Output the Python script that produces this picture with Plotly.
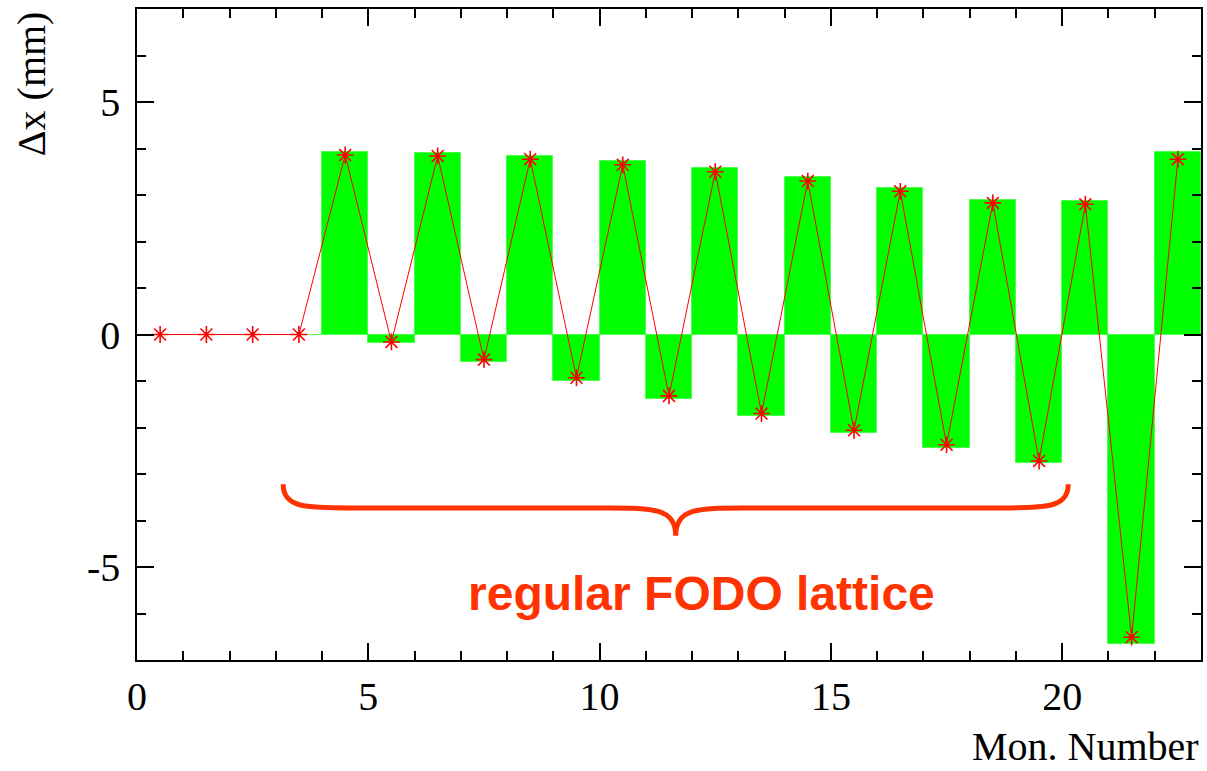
import plotly.graph_objects as go

# Monitor bins (centres of unit-wide bins 0..23)
monitor = [0.5, 1.5, 2.5, 3.5, 4.5, 5.5, 6.5, 7.5, 8.5, 9.5, 10.5, 11.5,
           12.5, 13.5, 14.5, 15.5, 16.5, 17.5, 18.5, 19.5, 20.5, 21.5, 22.5]

# Expected orbit difference per monitor (histogram, mm)
dx_model = [0.0, 0.0, 0.0, 0.0, 3.93, -0.19, 3.90, -0.59, 3.84, -0.99, 3.73, -1.38,
            3.58, -1.75, 3.38, -2.12, 3.15, -2.45, 2.90, -2.76, 2.87, -6.66, 3.92]

# Measured orbit difference per monitor (mm)
dx_meas = [0.0, 0.0, 0.0, 0.0, 3.86, -0.16, 3.84, -0.54, 3.77, -0.93, 3.65, -1.32,
           3.50, -1.70, 3.30, -2.06, 3.08, -2.37, 2.83, -2.72, 2.80, -6.51, 3.77]

x_tickvals = [0, 5, 10, 15, 20]
x_ticktext = ["0", "5", "10", "15", "20"]
y_tickvals = [-5, 0, 5]
y_ticktext = ["-5", "0", "5"]

# Span of the regular FODO cells marked with a brace
fodo_start, fodo_end = 3.16, 20.13
brace_top, brace_mid, brace_tip = -3.22, -3.73, -4.33
brace_curl = 1.45

AXIS_FONT = dict(family="Liberation Serif", size=40, color="black")
ORANGE = "#ff3300"

fig = go.Figure()

fig.add_trace(go.Bar(
    x=monitor, y=dx_model, width=1.0,
    marker=dict(color="#00ff00", line=dict(color="#4dff4d", width=1)),
    showlegend=False,
))

fig.add_trace(go.Scatter(
    x=monitor, y=dx_meas, mode="lines+markers",
    line=dict(color="#ff0000", width=1),
    marker=dict(symbol="asterisk-open", size=14, color="#ff0000",
                line=dict(color="#ff0000", width=1.6)),
    showlegend=False,
))

# Curly brace under the regular lattice section
x0, x1 = fodo_start, fodo_end
xc = 0.5 * (x0 + x1)
d = brace_curl
path = (
    f"M {x0},{brace_top} "
    f"C {x0},{brace_mid} {x0 + 0.35 * d},{brace_mid} {x0 + d},{brace_mid} "
    f"L {xc - d},{brace_mid} "
    f"C {xc - 0.35 * d},{brace_mid} {xc},{brace_mid} {xc},{brace_tip} "
    f"C {xc},{brace_mid} {xc + 0.35 * d},{brace_mid} {xc + d},{brace_mid} "
    f"L {x1 - d},{brace_mid} "
    f"C {x1 - 0.35 * d},{brace_mid} {x1},{brace_mid} {x1},{brace_top}"
)
fig.add_shape(type="path", path=path, xref="x", yref="y",
              line=dict(color=ORANGE, width=5))

fig.add_annotation(
    x=12.2, y=-5.56, xref="x", yref="y", text="<b>regular FODO lattice</b>",
    showarrow=False, xanchor="center", yanchor="middle",
    font=dict(family="Liberation Sans", size=48, color=ORANGE),
)

# Axis titles (ROOT style: right-aligned x title, top-aligned y title)
fig.add_annotation(
    x=1.0, y=-0.1705, xref="paper", yref="paper", text="Mon. Number",
    showarrow=False, xanchor="right", yanchor="bottom", font=AXIS_FONT,
)
fig.add_annotation(
    x=-0.099, y=1.0, xref="paper", yref="paper", text="Δx (mm)",
    showarrow=False, xanchor="center", yanchor="top", textangle=-90, font=AXIS_FONT,
)

axis_common = dict(
    showline=True, linecolor="black", linewidth=1.5, mirror="ticks",
    ticks="inside", ticklen=17, tickwidth=1.5, tickcolor="black",
    showgrid=False, zeroline=False, tickfont=AXIS_FONT,
)

fig.update_xaxes(
    range=[0, 23], tickvals=x_tickvals, ticktext=x_ticktext,
    minor=dict(dtick=1, ticks="inside", ticklen=9, tickwidth=1.5, tickcolor="black", showgrid=False),
    **axis_common,
)
fig.update_yaxes(
    range=[-7, 7], tickvals=y_tickvals, ticktext=y_ticktext,
    minor=dict(dtick=1, ticks="inside", ticklen=9, tickwidth=1.5, tickcolor="black", showgrid=False),
    ticklabelstandoff=7,
    **axis_common,
)

fig.update_layout(
    width=1207, height=771,
    margin=dict(l=137, r=4, t=9, b=111),
    paper_bgcolor="white", plot_bgcolor="white",
    bargap=0, showlegend=False,
)

fig.write_html("out.html")
